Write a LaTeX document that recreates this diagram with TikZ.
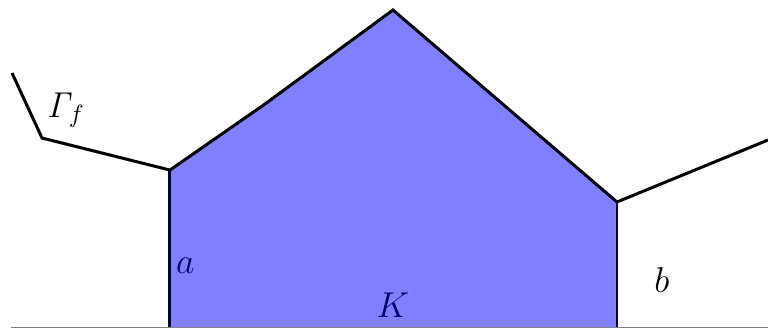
\documentclass[tikz,border=0pt]{standalone}
\begin{document}
\begin{tikzpicture}[
    graph/.style={very thick, black, line join=miter},
    edge/.style={very thick, draw=blue!20!black},
    lbl/.style={font=\Large}
]
    \useasboundingbox (0,0) rectangle (10.817,4.634);
    % --- points of the graph ---
    \coordinate (g0) at (0.169,3.606);
    \coordinate (g1) at (0.592,2.690);
    \coordinate (pa) at (2.394,2.239);
    \coordinate (g2) at (3.732,3.169);
    \coordinate (top) at (5.535,4.493);
    \coordinate (pb) at (8.690,1.789);
    \coordinate (g3) at (10.817,2.662);
    \coordinate (a0) at (2.394,0.028);
    \coordinate (b0) at (8.690,0.028);

    % axis
    \draw[gray, thin] (0.155,0.028) -- (10.817,0.028);
    % region K
    \fill[blue!50] (a0) -- (pa) -- (g2) -- (top) -- (pb) -- (b0) -- cycle;
    \draw[edge] (a0) -- (pa);
    \draw[edge] (pb) -- (b0);
    % graph
    \draw[graph] (g0) -- (g1) -- (pa) -- (g2) -- (top) -- (pb) -- (g3);

    \node[lbl] (gamma) at (0.93,3.08) {$\mathit{\Gamma}_f$};
    \node[lbl, blue!40!black] (la) at (2.61,0.89) {$a$};
    \node[lbl, blue!40!black] (lK) at (5.535,0.34) {$K$};
    \node[lbl] (lb) at (9.32,0.69) {$b$};
\end{tikzpicture}
\end{document}
